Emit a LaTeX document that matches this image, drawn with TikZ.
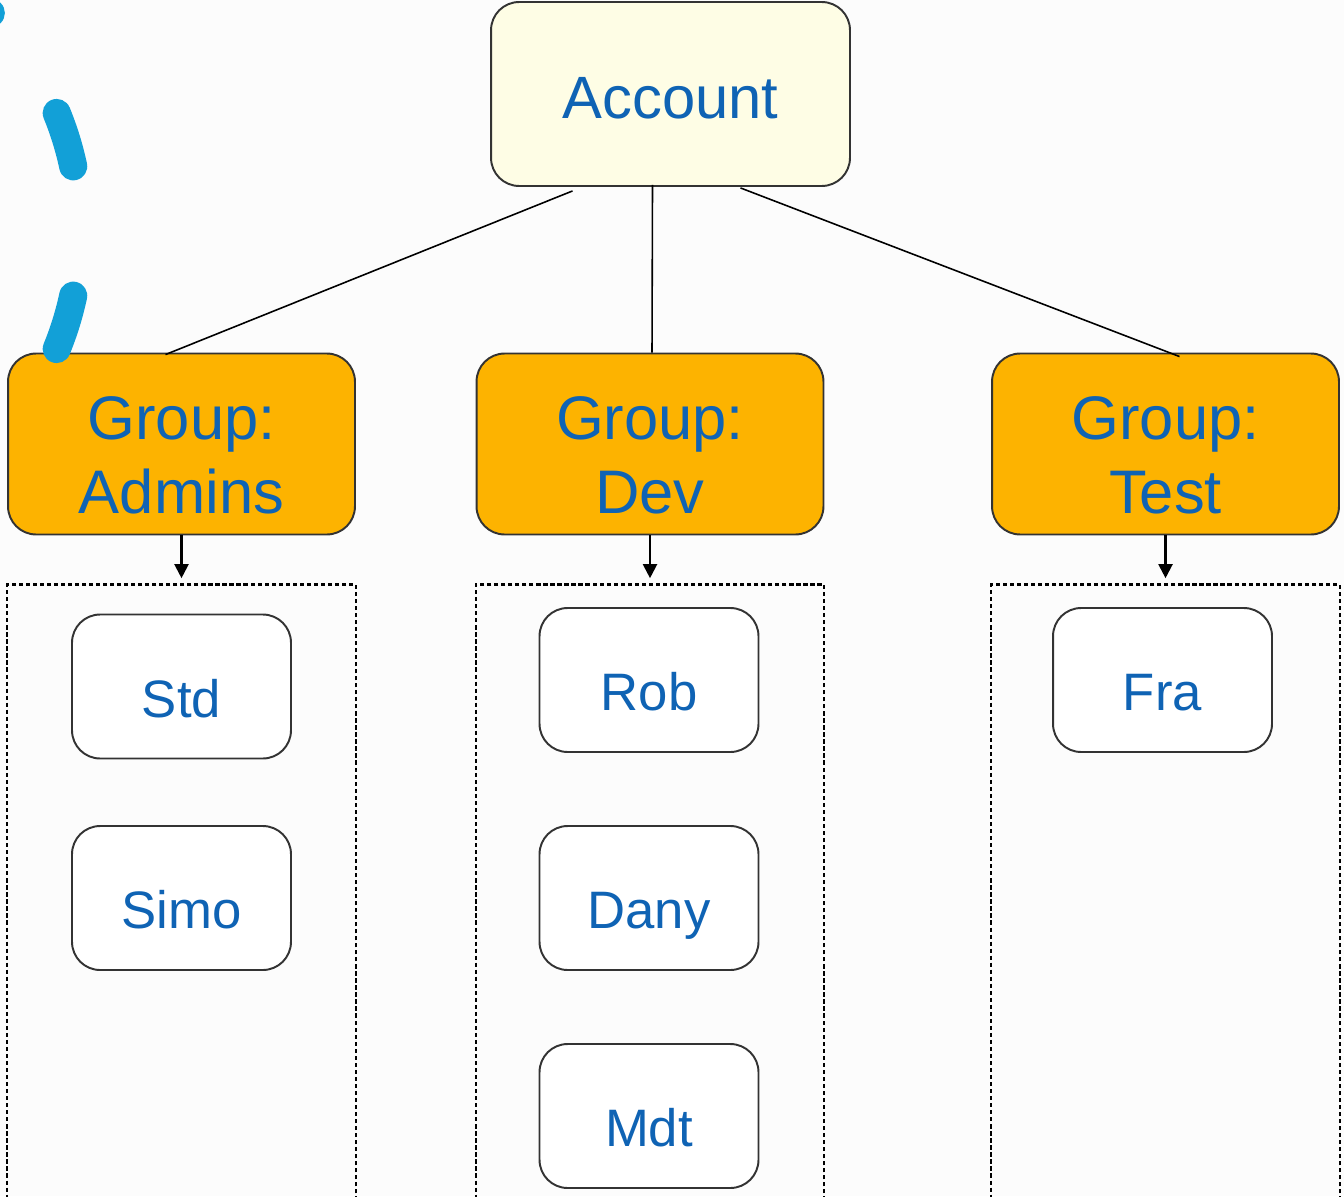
\documentclass[tikz,border=0pt]{standalone}
\usepackage{fontspec}
\setmainfont{Liberation Sans}
\usetikzlibrary{positioning,calc,arrows.meta}
\definecolor{txtblue}{HTML}{0F63B4}
\definecolor{acctfill}{HTML}{FEFDE5}
\definecolor{grpfill}{HTML}{FDB300}
\definecolor{penblue}{HTML}{12A0D7}
\begin{document}
\begin{tikzpicture}[x=0.02cm,y=-0.02cm,
    box/.style={draw=black!80,line width=1.1pt,rounded corners=16pt,align=center,text=txtblue,inner sep=0pt},
    acct/.style={box,fill=acctfill,minimum width=7.18cm,minimum height=3.68cm,font=\fontsize{34}{42}\selectfont,text height=28pt,text depth=0pt},
    grp/.style={box,fill=grpfill,minimum width=6.94cm,minimum height=3.62cm,font=\fontsize{35}{42}\selectfont},
    member/.style={box,fill=white,minimum width=4.38cm,minimum height=2.88cm,font=\fontsize{30}{36}\selectfont,text height=35pt,text depth=0pt},
    lane/.style={draw,dash pattern=on 2.4pt off 1.6pt,line width=1.3pt,minimum width=6.97cm,minimum height=12.8cm,anchor=north,inner sep=0pt},
    link/.style={line width=0.9pt},
    arrow/.style={line width=1.2pt,-{Triangle[length=8pt,width=8pt]},shorten >=3pt}]
    \useasboundingbox (0,0) rectangle (1344,1196);
    \clip (0,0) rectangle (1344,1196);
    \fill[white!99!black] (0,0) rectangle (1344,1196);
    \def\pR{311} % radius of the pen arc
    % boxes
    \node[acct] (account) at (670.5,94) {Account};
    \foreach \x/\mname/\mtext in {181.5/admins/Admins,650/dev/Dev,1165.5/test/Test}{
        \node[grp] (\mname) at (\x,444) {\rule{0pt}{37pt}Group:\\\mtext};
        \node[lane] (\mname lane) at ($(\mname.south)+(0,48)$) {};
        \draw[arrow] (\mname) -- (\mname lane.north);
    }
    \foreach \x/\y/\mname/\mtext in {181.5/686.5/std/Std,181.5/898/simo/Simo,649/680/rob/Rob,649/898/dany/Dany,649/1116/mdt/Mdt,1162.5/680/fra/Fra}
        \node[member] (\mname) at (\x,\y) {\mtext};
    % links from the account
    \draw[link] ($(account.south)+(-98,4)$) -- ($(admins.north)+(-16,2)$);
    \draw[link] ($(account.south)+(-18,-2)$) -- ($(dev.north)+(2,0)$);
    \draw[link] ($(account.south)+(70,1)$) -- ($(test.north)+(14,4)$);
    % pen strokes on the left
    \foreach \a/\b in {-58/-44.5,-22.3/-12,12/22.3}
        \draw[penblue,line width=16pt,line cap=round] (-231,231) ++(\a:\pR) arc[start angle=\a,end angle=\b,radius=\pR];
\end{tikzpicture}
\end{document}
